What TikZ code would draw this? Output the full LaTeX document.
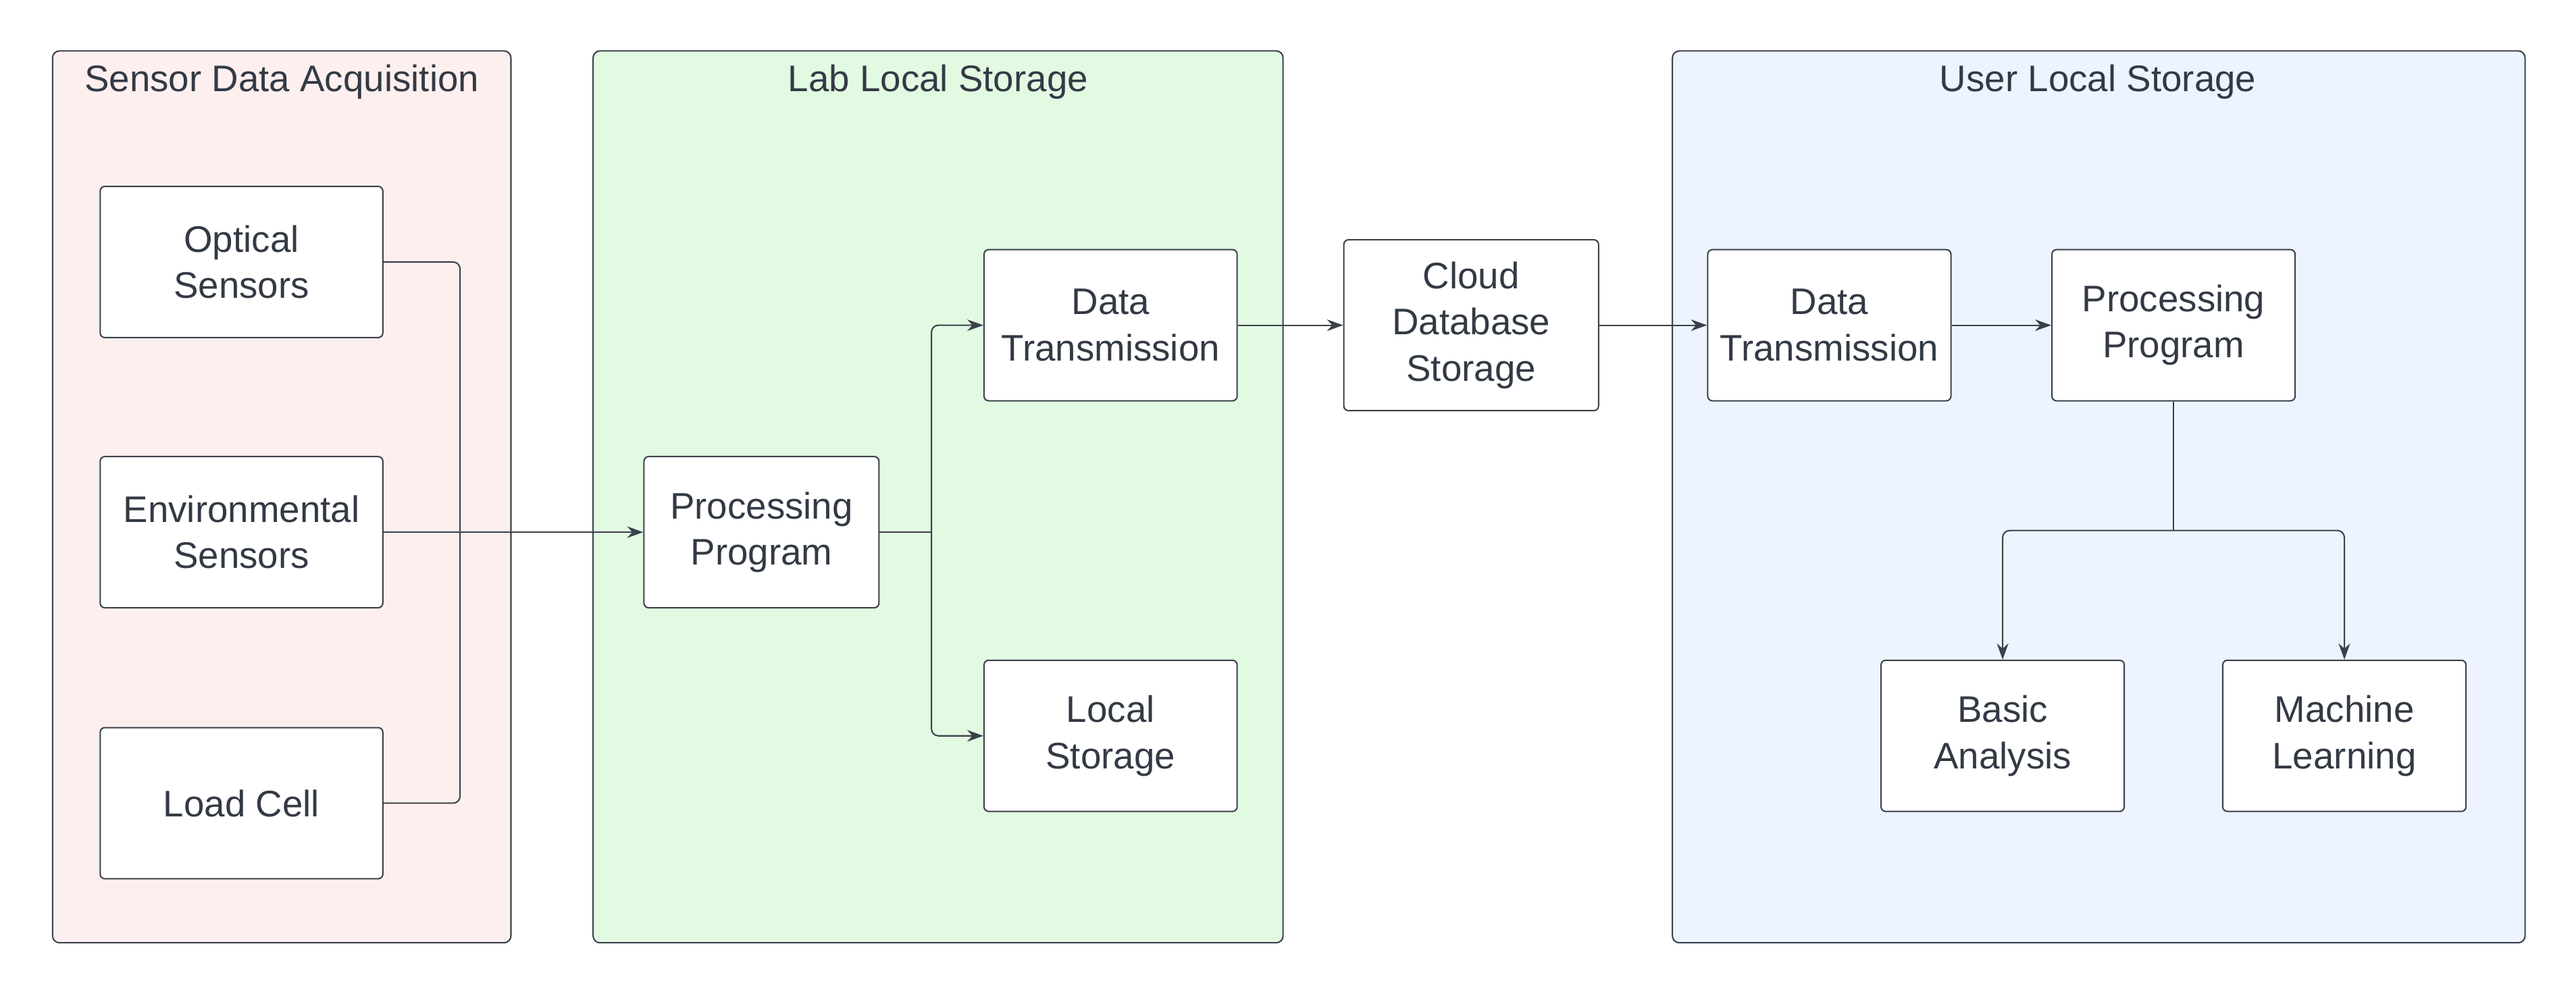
\documentclass[tikz,border=0pt]{standalone}
\usepackage{fontspec}
\setmainfont{Liberation Sans}
\usetikzlibrary{arrows.meta}
\definecolor{txt}{HTML}{333A45}
\definecolor{edge}{HTML}{3A414A}
\definecolor{pinkbg}{HTML}{FDEFEE}
\definecolor{greenbg}{HTML}{E2F9E2}
\definecolor{bluebg}{HTML}{EDF4FF}
\begin{document}
\begin{tikzpicture}[x=0.025cm, y=-0.025cm,
  box/.style={rectangle, draw=edge, fill=white, rounded corners=2pt, line width=0.6pt, align=center, text=txt, font=\fontsize{16}{20}\selectfont, minimum height=2.3cm, inner sep=1pt},
  group/.style={draw=edge, rounded corners=3pt, line width=0.6pt},
  title/.style={text=txt, font=\fontsize{16}{20}\selectfont},
  link/.style={draw=edge, line width=0.6pt, rounded corners=3pt},
  arrow/.style={link, -{Stealth[length=7pt, width=5pt]}}]
        \useasboundingbox (0,0) rectangle (1568,606);
        % groups
        \draw[group, fill=pinkbg] (32,31) rectangle (311,574);
        \draw[group, fill=greenbg] (361,31) rectangle (781,574);
        \draw[group, fill=bluebg] (1018,31) rectangle (1537,574);
        \node[title] (sda) at (171.5,50) {Sensor Data Acquisition};
        \node[title] (lls) at (571,50) {Lab Local Storage};
        \node[title] (uls) at (1277,50) {User Local Storage};

        % nodes
        \node[box, minimum width=4.3cm] (optical) at (147,159.5) {Optical\\Sensors};
        \node[box, minimum width=4.3cm] (env) at (147,324) {Environmental\\Sensors};
        \node[box, minimum width=4.3cm] (load) at (147,489) {Load Cell};
        \node[box, minimum width=3.575cm] (labprog) at (463.5,324) {Processing\\Program};
        \node[box, minimum width=3.85cm] (labtx) at (676,198) {Data\\Transmission};
        \node[box, minimum width=3.85cm] (labstore) at (676,448) {Local\\Storage};
        \node[box, minimum width=3.875cm, minimum height=2.6cm] (cloud) at (895.5,198) {Cloud\\Database\\Storage};
        \node[box, minimum width=3.7cm] (usertx) at (1113.5,198) {Data\\Transmission};
        \node[box, minimum width=3.7cm] (userprog) at (1323,198) {Processing\\Program};
        \node[box, minimum width=3.7cm] (basic) at (1219,448) {Basic\\Analysis};
        \node[box, minimum width=3.7cm] (ml) at (1427,448) {Machine\\Learning};

        \coordinate (join) at (280,324);
        \coordinate (split) at (567,324);
        \coordinate (fork) at (1323,323);

        % connectors
        \draw[link] (optical.east) -| (join);
        \draw[link] (load.east) -| (join);
        \draw[arrow] (env.east) -- (labprog.west);
        \draw[link] (labprog.east) -- (split);
        \draw[arrow] (split) |- (labtx.west);
        \draw[arrow] (split) |- (labstore.west);
        \draw[arrow] (labtx) -- (cloud);
        \draw[arrow] (cloud) -- (usertx);
        \draw[arrow] (usertx) -- (userprog);
        \draw[link] (userprog.south) -- (fork);
        \draw[arrow] (fork) -| (basic.north);
        \draw[arrow] (fork) -| (ml.north);
    \end{tikzpicture}
\end{document}
